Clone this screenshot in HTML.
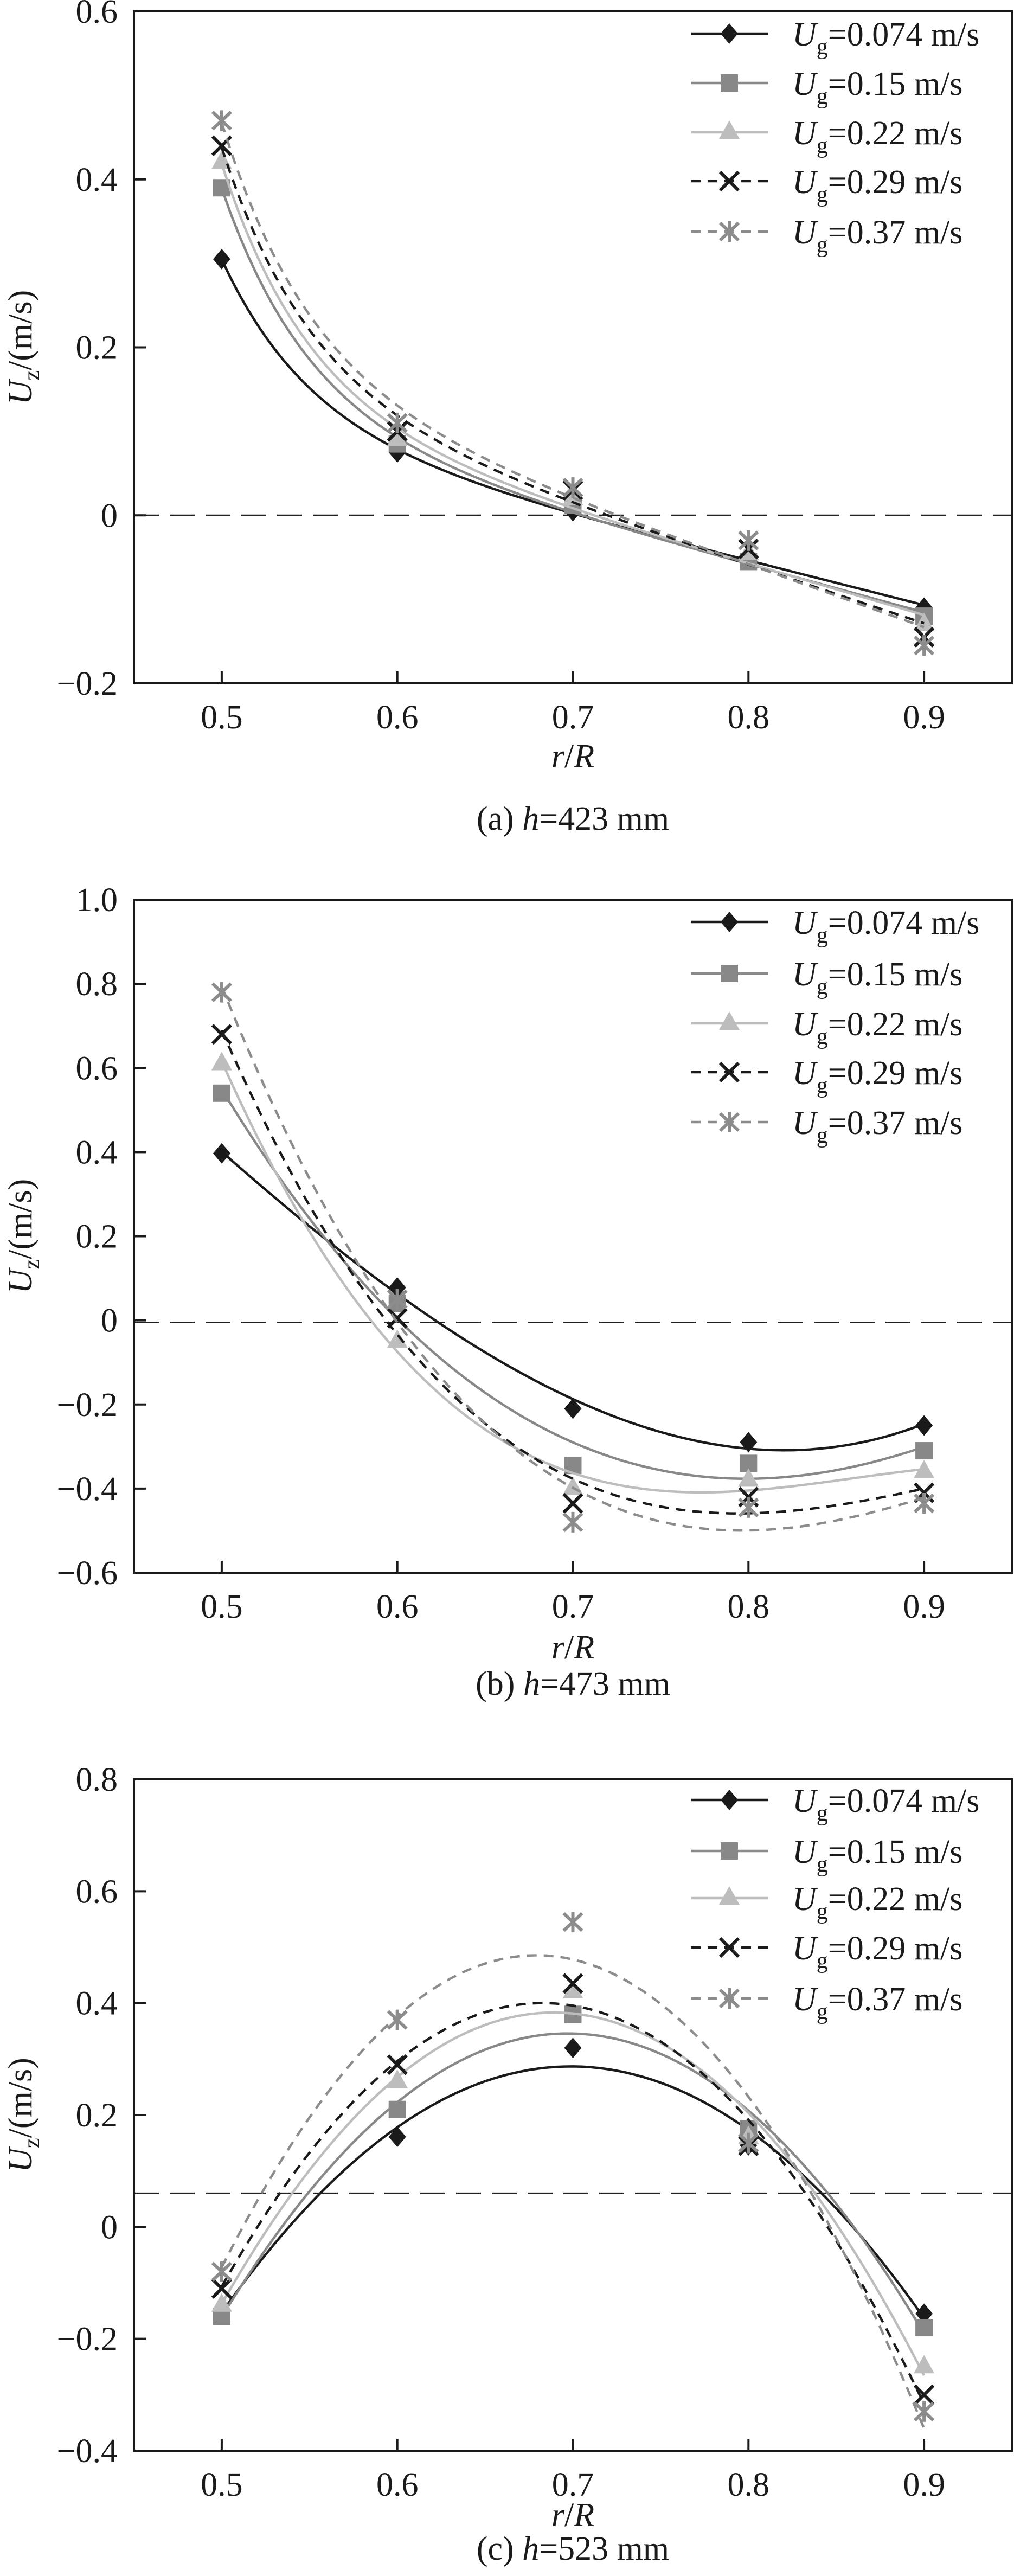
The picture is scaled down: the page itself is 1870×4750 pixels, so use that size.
<!DOCTYPE html>
<html><head><meta charset="utf-8">
<style>
html,body{margin:0;padding:0;background:#fff;}
svg{display:block;}
text{font-family:"Liberation Serif","Times New Roman",serif;fill:#1a1a1a;}
</style></head>
<body>
<svg id="fig" width="1870" height="4750" viewBox="0 0 1870 4750" xmlns="http://www.w3.org/2000/svg"></svg>
<script>
// ---- data ----
const rPositions = [0.5, 0.6, 0.7, 0.8, 0.9];
const xTickLabels = ["0.5","0.6","0.7","0.8","0.9"];
const seriesNames = ["0.074 m/s","0.15 m/s","0.22 m/s","0.29 m/s","0.37 m/s"];

const aYTicks = [0.6, 0.4, 0.2, 0, -0.2];
const aYTickLabels = ["0.6","0.4","0.2","0","\u22120.2"];
const aS1 = [0.305, 0.075, 0.005, -0.05, -0.11];
const aS2 = [0.39, 0.085, 0.012, -0.055, -0.12];
const aS3 = [0.42, 0.09, 0.02, -0.045, -0.13];
const aS4 = [0.44, 0.10, 0.03, -0.04, -0.145];
const aS5 = [0.47, 0.11, 0.033, -0.03, -0.155];
const aRef = 0;

const bYTicks = [1.0, 0.8, 0.6, 0.4, 0.2, 0, -0.2, -0.4, -0.6];
const bYTickLabels = ["1.0","0.8","0.6","0.4","0.2","0","\u22120.2","\u22120.4","\u22120.6"];
const bS1 = [0.397, 0.078, -0.21, -0.29, -0.25];
const bS2 = [0.54, 0.04, -0.345, -0.34, -0.31];
const bS3 = [0.61, -0.05, -0.40, -0.38, -0.36];
const bS4 = [0.68, 0.005, -0.435, -0.42, -0.41];
const bS5 = [0.78, 0.05, -0.48, -0.445, -0.435];
const bRef = -0.005;

const cYTicks = [0.8, 0.6, 0.4, 0.2, 0, -0.2, -0.4];
const cYTickLabels = ["0.8","0.6","0.4","0.2","0","\u22120.2","\u22120.4"];
const cS1 = [-0.15, 0.161, 0.32, 0.146, -0.155];
const cS2 = [-0.16, 0.21, 0.38, 0.175, -0.18];
const cS3 = [-0.14, 0.26, 0.42, 0.16, -0.25];
const cS4 = [-0.11, 0.29, 0.435, 0.145, -0.30];
const cS5 = [-0.08, 0.37, 0.545, 0.15, -0.33];
const cRef = 0.06;

// ---- rendering ----
const NS = "http://www.w3.org/2000/svg";
const svg = document.getElementById('fig');
const styles = [
  {color:"#1a1a1a", dash:null, marker:"diamond"},
  {color:"#888888", dash:null, marker:"square"},
  {color:"#bdbdbd", dash:null, marker:"triangle"},
  {color:"#1a1a1a", dash:"18 13", marker:"x"},
  {color:"#8c8c8c", dash:"18 13", marker:"star"}
];
function el(tag, attrs, parent){
  const e = document.createElementNS(NS, tag);
  for (const k in attrs) e.setAttribute(k, attrs[k]);
  (parent||svg).appendChild(e);
  return e;
}
// generic linear least squares with basis functions
function lsfit(xs, ys, basis){
  const n = basis.length, A = [], b = [];
  for (let i=0;i<n;i++){A.push(new Array(n).fill(0)); b.push(0);}
  for (let k=0;k<xs.length;k++){
    const phi = basis.map(f=>f(xs[k]));
    for (let i=0;i<n;i++){
      b[i] += ys[k]*phi[i];
      for (let j=0;j<n;j++) A[i][j] += phi[i]*phi[j];
    }
  }
  for (let i=0;i<n;i++){
    let p=i; for (let r=i+1;r<n;r++) if (Math.abs(A[r][i])>Math.abs(A[p][i])) p=r;
    [A[i],A[p]]=[A[p],A[i]]; [b[i],b[p]]=[b[p],b[i]];
    for (let r=0;r<n;r++){ if(r===i) continue; const f=A[r][i]/A[i][i];
      for (let j=i;j<n;j++) A[r][j]-=f*A[i][j]; b[r]-=f*b[i]; }
  }
  const c = b.map((v,i)=>v/A[i][i]);
  return x => basis.reduce((s,f,i)=>s+c[i]*f(x),0);
}
function polyBasis(deg){ const a=[]; for(let i=0;i<=deg;i++) a.push(x=>Math.pow((x-0.7)*10,i)); return a; }
const expBasis = [x=>1, x=>Math.exp(-20*(x-0.5)), x=>(x-0.7)*10];

function drawMarker(g, type, cx, cy, color){
  let m;
  if (type==="diamond") m = el('polygon',{points:`${cx},${cy-19} ${cx+16},${cy} ${cx},${cy+19} ${cx-16},${cy}`,fill:color},g);
  else if (type==="square") m = el('rect',{x:cx-16,y:cy-16,width:32,height:32,fill:color},g);
  else if (type==="triangle") m = el('polygon',{points:`${cx},${cy-22} ${cx+19},${cy+12} ${cx-19},${cy+12}`,fill:color},g);
  else if (type==="x") m = el('path',{d:`M${cx-17} ${cy-17}L${cx+17} ${cy+17}M${cx+17} ${cy-17}L${cx-17} ${cy+17}`,stroke:color,'stroke-width':6,fill:'none'},g);
  else m = el('path',{d:`M${cx-17} ${cy-16}L${cx+17} ${cy+16}M${cx+17} ${cy-16}L${cx-17} ${cy+16}M${cx} ${cy-19}L${cx} ${cy+19}`,stroke:color,'stroke-width':6,fill:'none'},g);
  
  
}

function panel(P){
  const g = el('g',{});
  
  
  const xS = v => P.left + (v-0.45)/(0.5)*(P.right-P.left);
  const yS = v => P.top + (P.yMax - v)/(P.yMax-P.yMin)*(P.bottom-P.top);

  const ref = el('line',{x1:P.left,x2:P.right,y1:yS(P.ref),y2:yS(P.ref),stroke:'#222','stroke-width':3,'stroke-dasharray':'46 20'},g);
  
  

  P.series.forEach((ys, si) => {
    const st = styles[si];
    const sg = el('g',{},g);
    
    
    const f = lsfit(rPositions, ys, P.basis);
    let d = "";
    for (let k=0;k<=80;k++){ const x = 0.5 + 0.4*k/80; d += (k?'L':'M') + xS(x).toFixed(1) + ' ' + yS(f(x)).toFixed(1); }
    const path = el('path',{d:d,fill:'none',stroke:st.color,'stroke-width':4.5},sg);
    if (st.dash) path.setAttribute('stroke-dasharray', st.dash);
    
    
    ys.forEach((v,i)=> drawMarker(sg, st.marker, xS(rPositions[i]), yS(v), st.color));
  });

  const fr = el('rect',{x:P.left,y:P.top,width:P.right-P.left,height:P.bottom-P.top,fill:'none',stroke:'#1a1a1a','stroke-width':4},g);
  
  

  P.yTicks.forEach((v,i)=>{
    const y = yS(v);
    if (i>0 && i<P.yTicks.length-1) el('line',{x1:P.left,x2:P.left+22,y1:y,y2:y,stroke:'#1a1a1a','stroke-width':4},g);
    const t = el('text',{x:P.left-30,y:y+21,'text-anchor':'end','font-size':62},g);
    t.textContent = P.yLabels[i];
    
    
  });
  rPositions.forEach((v,i)=>{
    const x = xS(v);
    el('line',{x1:x,x2:x,y1:P.bottom,y2:P.bottom-22,stroke:'#1a1a1a','stroke-width':4},g);
    const t = el('text',{x:x,y:P.bottom+83,'text-anchor':'middle','font-size':62},g);
    t.textContent = xTickLabels[i];
    
    
  });
  const xt = el('text',{x:(P.left+P.right)/2,y:P.xTitleY,'text-anchor':'middle','font-size':62,'font-style':'italic'},g);
  xt.innerHTML = 'r<tspan font-style="normal">/</tspan>R';
  
  
  const cy = (P.top+P.bottom)/2;
  const yt = el('text',{x:0,y:0,transform:`translate(58 ${cy}) rotate(-90)`,'text-anchor':'middle','font-size':62},g);
  yt.innerHTML = '<tspan font-style="italic">U</tspan><tspan font-size="42" dy="14">z</tspan><tspan dy="-14">/(m/s)</tspan>';
  
  
  const cap = el('text',{x:(P.left+P.right)/2,y:P.capY,'text-anchor':'middle','font-size':62},g);
  cap.innerHTML = P.capPre + ' <tspan font-style="italic">h</tspan>=' + P.capVal;
  
  

  const lg = el('g',{},g);
  
  
  P.legendY.forEach((ly,i)=>{
    const st = styles[i];
    const e = el('g',{},lg);
    
    
    const ln = el('line',{x1:1274,x2:1417,y1:ly,y2:ly,stroke:st.color,'stroke-width':4.5},e);
    if (st.dash) ln.setAttribute('stroke-dasharray', st.dash);
    drawMarker(e, st.marker, 1345, ly, st.color);
    const t = el('text',{x:1461,y:ly+22,'font-size':62},e);
    t.innerHTML = '<tspan font-style="italic">U</tspan><tspan font-size="42" dy="16">g</tspan><tspan dy="-16">=' + seriesNames[i] + '</tspan>';
  });
}

panel({id:'a', left:247, right:1866, top:21, bottom:1260, yMax:0.6, yMin:-0.2, basis:expBasis,
  yTicks:aYTicks, yLabels:aYTickLabels, series:[aS1,aS2,aS3,aS4,aS5], ref:aRef,
  xTitleY:1415, capY:1530, capPre:'(a)', capVal:'423 mm', legendY:[62,153,244,334,427]});
panel({id:'b', left:247, right:1866, top:1659, bottom:2900, yMax:1.0, yMin:-0.6, basis:polyBasis(3),
  yTicks:bYTicks, yLabels:bYTickLabels, series:[bS1,bS2,bS3,bS4,bS5], ref:bRef,
  xTitleY:3058, capY:3125, capPre:'(b)', capVal:'473 mm', legendY:[1700,1795,1887,1977,2069]});
panel({id:'c', left:247, right:1866, top:3281, bottom:4519, yMax:0.8, yMin:-0.4, basis:polyBasis(2),
  yTicks:cYTicks, yLabels:cYTickLabels, series:[cS1,cS2,cS3,cS4,cS5], ref:cRef,
  xTitleY:4658, capY:4720, capPre:'(c)', capVal:'523 mm', legendY:[3319,3413,3500,3591,3685]});
</script>
</body></html>
